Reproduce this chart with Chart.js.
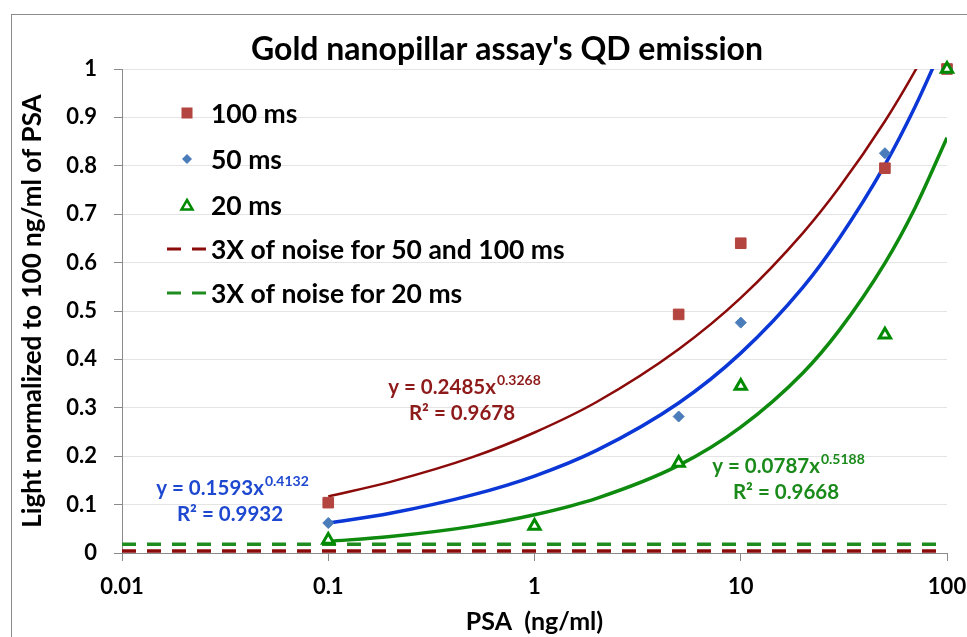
<!DOCTYPE html>
<html>
<head>
<meta charset="utf-8">
<script src="https://cdn.jsdelivr.net/npm/chart.js@4.4.1/dist/chart.umd.min.js"></script>
<style>
html,body{margin:0;padding:0;background:#fff;}
#wrap{width:967px;height:637px;position:relative;}
</style>
</head>
<body>
<div id="wrap"><canvas id="c" width="967" height="637"></canvas></div>
<script>
// ---- data ----
const chartTitle = "Gold nanopillar assay's QD emission";
const xAxisTitle = "PSA  (ng/ml)";
const yAxisTitle = "Light normalized to 100 ng/ml of PSA";
const xTickValues = [0.01, 0.1, 1, 10, 100];
const xTickLabels = ["0.01", "0.1", "1", "10", "100"];

const seriesNames = ["100 ms", "50 ms", "20 ms", "3X of noise for 50 and 100 ms", "3X of noise for 20 ms"];

const x100 = [0.1, 5, 10, 50, 100];
const y100 = [0.104, 0.493, 0.640, 0.795, 1.0];
const x50 = [0.1, 5, 10, 50, 100];
const y50 = [0.062, 0.282, 0.476, 0.826, 1.0];
const x20 = [0.1, 1, 5, 10, 50, 100];
const y20 = [0.027, 0.056, 0.186, 0.345, 0.451, 1.0];

// trend curves (power fits shown on the chart)
const trendX = [0.1, 0.2, 0.5, 1, 2, 5, 10, 20, 30, 50, 70, 100];
const trend100 = [0.117, 0.147, 0.198, 0.249, 0.312, 0.421, 0.527, 0.661, 0.755, 0.892, 0.996, 1.119];
const trend50 = [0.062, 0.082, 0.120, 0.159, 0.212, 0.310, 0.413, 0.549, 0.650, 0.802, 0.922, 1.068];
const trend20 = [0.024, 0.034, 0.055, 0.079, 0.113, 0.181, 0.260, 0.372, 0.460, 0.599, 0.713, 0.858];

const noiseX = [0.01, 100];
const noise100 = [0.004, 0.004];
const noise20 = [0.018, 0.018];

const eqCoef = ["0.2485", "0.1593", "0.0787"];
const eqExp = ["0.3268", "0.4132", "0.5188"];
const eqR2 = ["0.9678", "0.9932", "0.9668"];

// ---- styles ----
const C_RED_PT = '#B3443F';
const C_BLUE_PT = '#4A7CBA';
const C_GREEN_PT = '#008A00';
const C_RED_LN = '#8B0A0A';
const C_BLUE_LN = '#0A37D6';
const C_GREEN_LN = '#0E8A0E';
const C_RED_TXT = '#8E1A1A';
const C_BLUE_TXT = '#1E48D0';
const C_GREEN_TXT = '#1A8A1A';
const FONT = 'Lato, "Open Sans", sans-serif';

const pts = (xs, ys) => xs.map((x, i) => ({x: x, y: ys[i]}));

const datasets = [
  {label: seriesNames[2], data: pts(x20, y20), showLine: false, pointStyle: 'triangle', pointRadius: 6.5,
   pointBackgroundColor: '#fff', pointBorderColor: C_GREEN_PT, pointBorderWidth: 3, clip: false, order: 0},
  {label: seriesNames[1], data: pts(x50, y50), showLine: false, pointStyle: 'rectRot', pointRadius: 5.5,
   pointBackgroundColor: C_BLUE_PT, pointBorderColor: C_BLUE_PT, pointBorderWidth: 1, clip: false, order: 1},
  {label: seriesNames[0], data: pts(x100, y100), showLine: false, pointStyle: 'rect', pointRadius: 7.5,
   pointBackgroundColor: C_RED_PT, pointBorderColor: C_RED_PT, pointBorderWidth: 1, clip: false, order: 2},
  {label: 'trend 20', data: pts(trendX, trend20), showLine: true, borderColor: C_GREEN_LN, borderWidth: 3.5, pointRadius: 0,
   cubicInterpolationMode: 'monotone', clip: 0, order: 3},
  {label: 'trend 50', data: pts(trendX, trend50), showLine: true, borderColor: C_BLUE_LN, borderWidth: 3.5, pointRadius: 0,
   cubicInterpolationMode: 'monotone', clip: 0, order: 4},
  {label: 'trend 100', data: pts(trendX, trend100), showLine: true, borderColor: C_RED_LN, borderWidth: 2.5, pointRadius: 0,
   cubicInterpolationMode: 'monotone', clip: 0, order: 5},
  {label: seriesNames[4], data: pts(noiseX, noise20), showLine: true, borderColor: '#1E8C1E', borderWidth: 3.5, borderDash: [14, 11],
   pointRadius: 0, clip: 0, order: 6},
  {label: seriesNames[3], data: pts(noiseX, noise100), showLine: true, borderColor: '#8B0A0A', borderWidth: 3.5, borderDash: [14, 11],
   pointRadius: 0, clip: 0, order: 7}
];

const decorPlugin = {
  id: 'decor',
  beforeDraw(chart) {
    const ctx = chart.ctx;
    ctx.save();
    ctx.fillStyle = '#fff';
    ctx.fillRect(0, 0, chart.width, chart.height);
    ctx.strokeStyle = '#8a8a8a';
    ctx.lineWidth = 1;
    ctx.strokeRect(11.5, 14.5, 1000, 700);
    ctx.restore();
  },
  afterDraw(chart) {
    const ctx = chart.ctx;
    ctx.save();
    // title
    ctx.fillStyle = '#000';
    ctx.font = 'bold 32px ' + FONT;
    ctx.textAlign = 'center';
    ctx.textBaseline = 'middle';
    ctx.fillText(chartTitle, 507, 50);

    // legend
    const lx = 187, tx = 211;
    const rows = [113, 159, 205, 249, 293];
    ctx.font = 'bold 26.5px ' + FONT;
    ctx.textAlign = 'left';
    ctx.textBaseline = 'middle';
    for (let i = 0; i < 5; i++) {
      ctx.fillStyle = '#000';
      ctx.fillText(seriesNames[i], tx, rows[i] + 1);
    }
    // markers
    ctx.fillStyle = C_RED_PT;
    ctx.fillRect(lx - 5.5, rows[0] - 5.5, 11, 11);
    ctx.fillStyle = C_BLUE_PT;
    ctx.beginPath();
    ctx.moveTo(lx, rows[1] - 5); ctx.lineTo(lx + 5, rows[1]); ctx.lineTo(lx, rows[1] + 5); ctx.lineTo(lx - 5, rows[1]);
    ctx.closePath(); ctx.fill();
    ctx.strokeStyle = C_GREEN_PT; ctx.lineWidth = 2.5; ctx.fillStyle = '#fff';
    ctx.beginPath();
    ctx.moveTo(lx, rows[2] - 5); ctx.lineTo(lx + 5.5, rows[2] + 4.5); ctx.lineTo(lx - 5.5, rows[2] + 4.5);
    ctx.closePath(); ctx.fill(); ctx.stroke();
    const dashLine = (y, col) => {
      ctx.strokeStyle = col; ctx.lineWidth = 3; ctx.setLineDash([]);
      ctx.beginPath(); ctx.moveTo(167, y); ctx.lineTo(181, y); ctx.moveTo(192, y); ctx.lineTo(206, y); ctx.stroke();
    };
    dashLine(rows[3], '#8B0A0A');
    dashLine(rows[4], '#1E8C1E');

    // equations
    const eq = (cx, cy, coef, ex, r2, col) => {
      ctx.fillStyle = col;
      ctx.textBaseline = 'alphabetic';
      ctx.textAlign = 'left';
      const main = 'y = ' + coef + 'x';
      ctx.font = 'bold 20.5px ' + FONT;
      const w1 = ctx.measureText(main).width;
      ctx.font = 'bold 14px ' + FONT;
      const w2 = ctx.measureText(ex).width;
      const x0 = cx - (w1 + w2) / 2;
      ctx.font = 'bold 20.5px ' + FONT;
      ctx.fillText(main, x0, cy + 8);
      ctx.font = 'bold 14px ' + FONT;
      ctx.fillText(ex, x0 + w1 + 1, cy - 1);
      ctx.font = 'bold 20.5px ' + FONT;
      ctx.textAlign = 'center';
      ctx.fillText('R² = ' + r2, cx - 2, cy + 34);
    };
    eq(464, 386, eqCoef[0], eqExp[0], eqR2[0], C_RED_TXT);
    eq(232, 487, eqCoef[1], eqExp[1], eqR2[1], C_BLUE_TXT);
    eq(788, 465, eqCoef[2], eqExp[2], eqR2[2], C_GREEN_TXT);
    ctx.restore();
  }
};

new Chart(document.getElementById('c'), {
  type: 'scatter',
  data: {datasets: datasets},
  plugins: [decorPlugin],
  options: {
    responsive: false,
    animation: false,
    events: [],
    layout: {padding: {left: 11, top: 69, right: 20, bottom: 0}},
    plugins: {legend: {display: false}, title: {display: false}, tooltip: {enabled: false}},
    scales: {
      x: {
        type: 'logarithmic', min: 0.01, max: 100,
        afterBuildTicks: (s) => { s.ticks = xTickValues.map(v => ({value: v, major: true})); },
        afterFit: (s) => { s.height = 84; s.paddingRight = 0; s.paddingLeft = 0; },
        ticks: {
          autoSkip: false, maxRotation: 0, padding: 13, color: '#000',
          font: {family: FONT, size: 22, weight: 'bold'},
          callback: (v, i) => xTickLabels[i]
        },
        grid: {drawOnChartArea: false, drawTicks: true, tickLength: 8, tickColor: '#8a8a8a', color: '#8a8a8a'},
        border: {color: '#8a8a8a', width: 1},
        title: {display: true, text: xAxisTitle, color: '#000', font: {family: FONT, size: 25, weight: 'bold'},
                padding: {top: 0, bottom: 0}}
      },
      y: {
        type: 'linear', min: 0, max: 1,
        afterFit: (s) => { s.width = 111; },
        ticks: {stepSize: 0.1, padding: 17, color: '#000', font: {family: FONT, size: 22, weight: 'bold'},
                callback: (v) => String(Math.round(v * 10) / 10)},
        grid: {color: '#e4e4e4', lineWidth: 1, drawTicks: true, tickLength: 8, tickColor: '#8a8a8a'},
        border: {color: '#8a8a8a', width: 1},
        title: {display: true, text: yAxisTitle, color: '#000', font: {family: FONT, size: 26, weight: 'bold'},
                padding: {top: 6, bottom: 0}}
      }
    }
  }
});
</script>
</body>
</html>
